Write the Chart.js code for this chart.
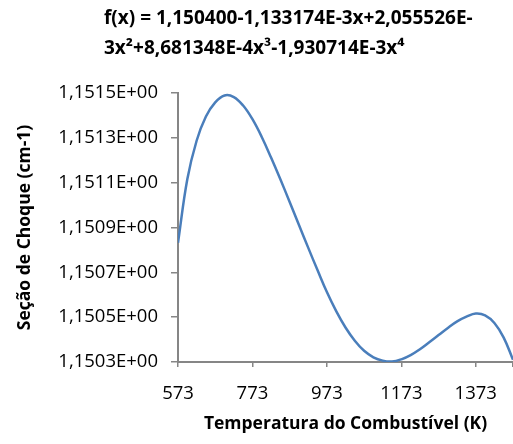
<!DOCTYPE html>
<html>
<head>
<meta charset="utf-8">
<script src="https://cdn.jsdelivr.net/npm/chart.js@4.4.0/dist/chart.umd.min.js"></script>
<style>
  html, body { margin: 0; padding: 0; background: #fff; }
  #wrap { width: 513px; height: 444px; }
</style>
</head>
<body>
<div id="wrap"><canvas id="chart" width="513" height="444"></canvas></div>
<script>
// temperatures (K) and cross section values
const temps = [573, 598, 623, 648, 673, 698, 723, 748, 773, 798, 823, 848, 873, 898, 923, 948, 973, 998,
               1023, 1048, 1073, 1098, 1123, 1148, 1173, 1198, 1223, 1248, 1273, 1298, 1323, 1348, 1373,
               1398, 1423, 1448, 1473];
const secao = [1.150832, 1.151115, 1.151287, 1.151395, 1.151458, 1.151489, 1.151482, 1.151444, 1.151383,
               1.151304, 1.151212, 1.151115, 1.151014, 1.150911, 1.150809, 1.150709, 1.150612, 1.150527,
               1.150454, 1.150395, 1.150350, 1.150321, 1.150306, 1.150302, 1.150312, 1.150331, 1.150357,
               1.150388, 1.150420, 1.150452, 1.150481, 1.150502, 1.150516, 1.150508, 1.150474, 1.150409,
               1.150310];
const xTicks = [573, 773, 973, 1173, 1373, 1473];
const yTicks = [1.1503, 1.1505, 1.1507, 1.1509, 1.1511, 1.1513, 1.1515];
const titleLines = ["f(x) = 1,150400-1,133174E-3x+2,055526E-", "3x\u00B2+8,681348E-4x\u00B3-1,930714E-3x\u2074"];

const FONT = "'Open Sans', 'DejaVu Sans', sans-serif";
const axisGray = "#868686";

// title drawn by hand, left aligned like the original
const titlePlugin = {
  id: "leftTitle",
  afterDraw(chart) {
    const ctx = chart.ctx;
    ctx.save();
    ctx.font = "bold 19px " + FONT;
    ctx.fillStyle = "#000";
    ctx.textAlign = "left";
    ctx.textBaseline = "middle";
    titleLines.forEach((t, i) => ctx.fillText(t, 104, 19 + i * 30));
    ctx.restore();
  }
};

const points = temps.map((t, i) => ({ x: t, y: secao[i] }));

new Chart(document.getElementById("chart"), {
  type: "line",
  data: {
    datasets: [{
      data: points,
      borderColor: "#4a7ebb",
      borderWidth: 2.5,
      pointRadius: 0,
      tension: 0.4,
      fill: false
    }]
  },
  options: {
    responsive: false,
    animation: false,
    layout: { padding: { top: 93, right: 0, left: 0, bottom: 0 } },
    plugins: { legend: { display: false }, tooltip: { enabled: false } },
    scales: {
      x: {
        type: "linear",
        min: 573,
        max: 1473,
        afterBuildTicks: axis => { axis.ticks = xTicks.map(v => ({ value: v })); },
        afterFit: scale => { scale.height = 82; scale.paddingRight = 0; scale.paddingLeft = 0; },
        grid: { drawOnChartArea: false, tickLength: 5, color: axisGray, lineWidth: 1.5 },
        border: { color: axisGray, width: 2 },
        ticks: {
          padding: 16,
          maxRotation: 0,
          autoSkip: false,
          color: "#000",
          font: { family: FONT, size: 18.5 },
          callback: v => (v === 1473 ? "" : String(v))
        },
        title: {
          display: true,
          text: "Temperatura do Combust\u00EDvel (K)",
          color: "#000",
          font: { family: FONT, size: 17.5, weight: "bold" },
          padding: { top: 0, bottom: 9 }
        }
      },
      y: {
        min: 1.1503,
        max: 1.1515,
        afterBuildTicks: axis => { axis.ticks = yTicks.map(v => ({ value: v })); },
        afterFit: scale => { scale.width = 178; },
        grid: { drawOnChartArea: false, tickLength: 7, color: axisGray, lineWidth: 1.5 },
        border: { color: axisGray, width: 2 },
        ticks: {
          padding: 13,
          color: "#000",
          font: { family: FONT, size: 18.5 },
          callback: v => v.toFixed(4).replace(".", ",") + "E+00"
        },
        title: {
          display: true,
          text: "Se\u00E7\u00E3o de Choque (cm-1)",
          color: "#000",
          font: { family: FONT, size: 17.5, weight: "bold" },
          padding: { top: 14.5, bottom: 0 }
        }
      }
    }
  },
  plugins: [titlePlugin]
});
</script>
</body>
</html>
